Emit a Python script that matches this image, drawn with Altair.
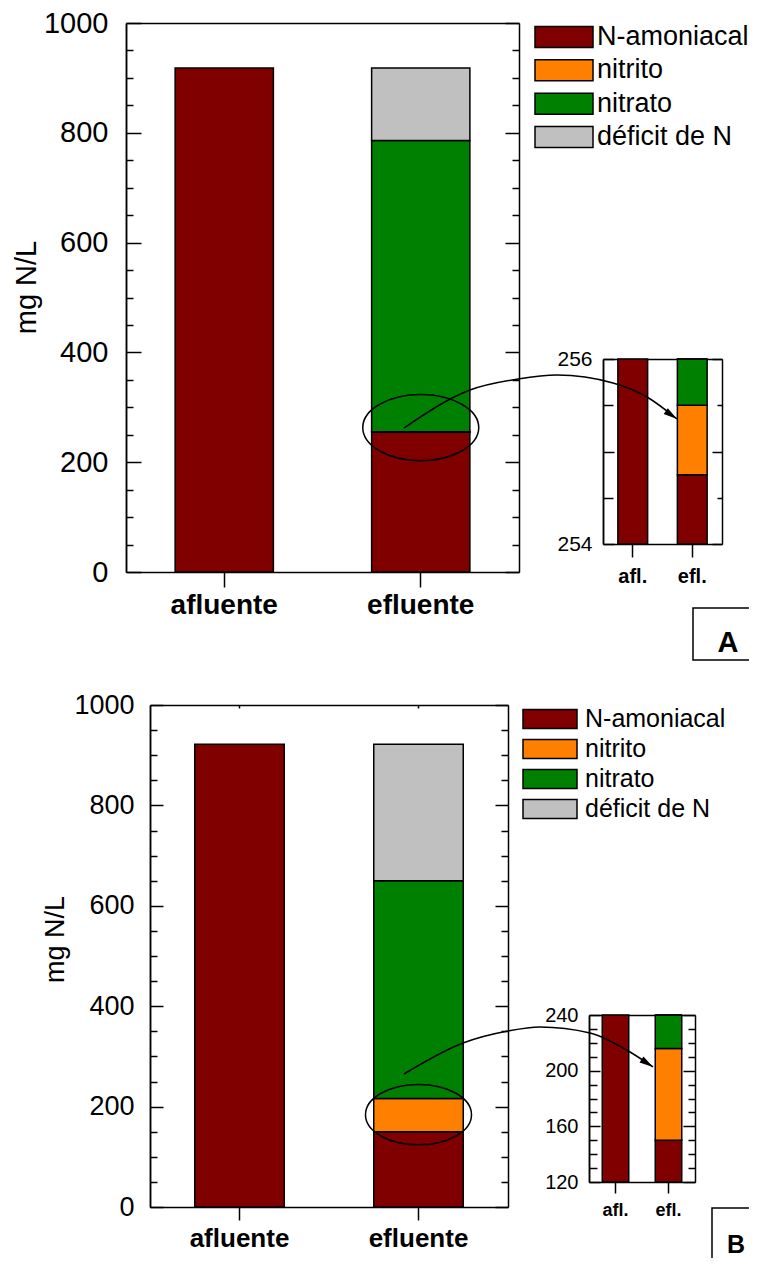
import altair as alt
import pandas as pd

W, H = 741, 1250
FONT = "Liberation Sans"

# ---------------- data ----------------
components = ["N-amoniacal", "nitrito", "nitrato", "déficit de N"]
colors = ["#800000", "#FF8000", "#008000", "#C0C0C0"]
samples = ["afluente", "efluente"]
samples_short = ["afl.", "efl."]

a_afluente = [918, 0, 0, 0]
a_efluente = [254.75, 0.75, 530.5, 132]
b_afluente = [922, 0, 0, 0]
b_efluente = [150, 66, 434, 272]

main_ticks = list(range(0, 1001, 50))
main_labels = [0, 200, 400, 600, 800, 1000]
insetA_ticks = [254, 254.5, 255, 255.5, 256]
insetA_labels = [254, 255, 256]
insetB_ticks = list(range(120, 241, 10))
insetB_labels = [120, 160, 200, 240]

# annotations
ellipse_A_value = [263]
ellipse_B_value = [184]
arrow_A_x = [396, 462, 510, 549, 605, 639, 669]
arrow_A_y = [420, 382, 371, 367, 375, 389, 411]
arrow_B_x = [396, 455, 500, 532, 582, 622, 645]
arrow_B_y = [1066, 1035, 1023, 1019, 1025, 1044, 1059]
head_angles = [125, 123]
panel_letters = ["A", "B"]


def make_df(afl, efl):
    rows = []
    for s, short, vals in zip(samples, samples_short, [afl, efl]):
        for i, (c, v) in enumerate(zip(components, vals)):
            if v > 0:
                rows.append({"sample": s, "short": short, "component": c, "value": v, "ord": i})
    return pd.DataFrame(rows)


dfA = make_df(a_afluente, a_efluente)
dfB = make_df(b_afluente, b_efluente)


def cond(major_mod, big, small):
    return {"condition": {"test": f"abs(datum.value % {major_mod}) < 1e-6", "value": big}, "value": small}


def plot_layers(df, xfield, cats, xr, yr, ydom, tick_vals, major_mod, tl, tr,
                lab_vals, lab_size, lab_pad, cat_size, cat_tick, cat_pad,
                title=None, title_size=0, title_pad=0, title_y=None, top_tick=0, clamp=False):
    xs = alt.Scale(domain=cats, range=xr, paddingInner=0.5, paddingOuter=0.25)
    ys = alt.Scale(domain=ydom, range=yr, clamp=clamp, nice=False, zero=False)
    color = alt.Color("component:N", scale=alt.Scale(domain=components, range=colors), legend=None)
    left_kw = dict(orient="left", offset=-xr[0], values=lab_vals, format="d", ticks=False, tickSize=0,
                   labelFontSize=lab_size, labelPadding=lab_pad, domain=True, grid=False)
    if title:
        left_kw.update(title=title, titleFontSize=title_size, titlePadding=title_pad, titleY=title_y)
    else:
        left_kw["title"] = None
    bars = alt.Chart(df).mark_bar(stroke="black", strokeWidth=1.5).encode(
        x=alt.X(f"{xfield}:N", scale=xs, axis=alt.Axis(orient="bottom", offset=yr[0] - H, title=None,
                                                       labelAngle=0, labelFontSize=cat_size,
                                                       labelFontWeight="bold", tickSize=cat_tick,
                                                       labelPadding=cat_pad, grid=False)),
        y=alt.Y("value:Q", stack="zero", scale=ys, axis=alt.Axis(**left_kw)),
        color=color,
        order=alt.Order("ord:Q"),
    )
    ticks_left = alt.Chart(df).mark_bar(opacity=0).encode(
        x=alt.X(f"{xfield}:N", scale=xs, axis=alt.Axis(orient="bottom", offset=yr[1] - H, labels=False,
                                                       ticks=top_tick > 0, tickSize=top_tick,
                                                       title=None, grid=False)),
        y=alt.Y("value:Q", stack=None, scale=ys,
                axis=alt.Axis(orient="right", offset=xr[0] - W, values=tick_vals, labels=False,
                              tickSize=cond(major_mod, tl[0], tl[1]), title=None, grid=False)),
    )
    ticks_right = alt.Chart(df).mark_bar(opacity=0).encode(
        x=alt.X(f"{xfield}:N", scale=xs, axis=None),
        y=alt.Y("value:Q", stack=None, scale=ys,
                axis=alt.Axis(orient="left", offset=-xr[1], values=tick_vals, labels=False,
                              tickSize=cond(major_mod, tr[0], tr[1]), title=None, grid=False)),
    )
    return [bars, ticks_left, ticks_right], xs, ys


layA, xsA, ysA = plot_layers(dfA, "sample", samples, [118, 511], [564, 15], [0, 1000], main_ticks, 200,
                             (15, 7), (14, 7), main_labels, 29, 18, 28, 15, 4,
                             title="mg N/L", title_size=29, title_pad=2, title_y=279)
layAi, _, _ = plot_layers(dfA, "short", samples_short, [595, 714], [536, 351], [254, 256], insetA_ticks, 1,
                          (11, 10), (10, 5), insetA_labels, 21, 11, 20, 13, 9, clamp=True)
layB, xsB, ysB = plot_layers(dfB, "sample", samples, [142, 500], [1199, 697], [0, 1000], main_ticks, 200,
                             (13, 7), (13, 7), main_labels, 27, 16, 26, 13, 5,
                             title="mg N/L", title_size=27, title_pad=4, title_y=931, top_tick=3)
layBi, _, _ = plot_layers(dfB, "short", samples_short, [581, 687], [1174, 1007], [120, 240], insetB_ticks, 40,
                          (11, 8), (12, 7), insetB_labels, 20, 11, 18, 11, 8, clamp=True)

# ellipses (in main-plot data coordinates)
ell_path = "M-1,0A1,0.57,0,1,1,1,0A1,0.57,0,1,1,-1,0"
ellA = alt.Chart(pd.DataFrame({"sample": ["efluente"], "v": ellipse_A_value})).mark_point(
    shape=ell_path, filled=False, stroke="black", strokeWidth=1.5, opacity=1, size=13456).encode(
    x=alt.X("sample:N", scale=xsA, axis=None), y=alt.Y("v:Q", scale=ysA, axis=None))
ellB = alt.Chart(pd.DataFrame({"sample": ["efluente"], "v": ellipse_B_value})).mark_point(
    shape=ell_path, filled=False, stroke="black", strokeWidth=1.5, opacity=1, size=11236).encode(
    x=alt.X("sample:N", scale=xsB, axis=None), y=alt.Y("v:Q", scale=ysB, axis=None))

# pixel-space annotations
pxs = alt.Scale(domain=[0, W], range=[0, W], nice=False, zero=False)
pys = alt.Scale(domain=[0, H], range=[0, H], nice=False, zero=False)

arr_rows = []
for panel, xs_, ys_ in [("A", arrow_A_x, arrow_A_y), ("B", arrow_B_x, arrow_B_y)]:
    for i, (x_, y_) in enumerate(zip(xs_, ys_)):
        arr_rows.append({"panel": panel, "px": x_, "py": y_, "ord": i})
arr_df = pd.DataFrame(arr_rows)
arrows = alt.Chart(arr_df).mark_line(color="black", strokeWidth=1.5, interpolate="monotone").encode(
    x=alt.X("px:Q", scale=pxs, axis=None), y=alt.Y("py:Q", scale=pys, axis=None),
    detail="panel:N", order="ord:Q")

head_df = pd.DataFrame({"px": [arrow_A_x[-1], arrow_B_x[-1]], "py": [arrow_A_y[-1], arrow_B_y[-1]],
                        "ang": head_angles})
heads = alt.Chart(head_df).mark_point(shape="M0,0L0.45,1.7L-0.45,1.7Z", filled=True, fill="black",
                                      opacity=1, size=260, strokeWidth=0).encode(
    x=alt.X("px:Q", scale=pxs, axis=None), y=alt.Y("py:Q", scale=pys, axis=None),
    angle=alt.Angle("ang:Q", scale=None))

box_df = pd.DataFrame({"x": [685, 704], "x2": [760, 760], "y": [600, 1200], "y2": [652, 1270]})
boxes = alt.Chart(box_df).mark_rect(fill="white", stroke="black", strokeWidth=1.5).encode(
    x=alt.X("x:Q", scale=pxs, axis=None), x2="x2:Q",
    y=alt.Y("y:Q", scale=pys, axis=None), y2="y2:Q")
let_df = pd.DataFrame({"t": panel_letters, "x": [720, 728], "y": [635, 1237], "fs": [29, 25]})
letters = alt.Chart(let_df).mark_text(font=FONT, fontWeight="bold", color="black",
                                      baseline="middle", align="center").encode(
    x=alt.X("x:Q", scale=pxs, axis=None), y=alt.Y("y:Q", scale=pys, axis=None),
    text="t:N", size=alt.Size("fs:Q", scale=None))


# manual legends
def legend_layers(yrange, pin, x0, x1, xt, fs):
    ldf = pd.DataFrame({"component": components})
    ysc = alt.Scale(domain=components, range=yrange, paddingInner=pin, paddingOuter=pin / 2)
    sw = alt.Chart(ldf).mark_rect(stroke="black", strokeWidth=1.5).encode(
        y=alt.Y("component:N", scale=ysc, axis=None),
        x=alt.value(x0), x2=alt.value(x1),
        color=alt.Color("component:N", scale=alt.Scale(domain=components, range=colors), legend=None))
    tx = alt.Chart(ldf).mark_text(align="left", baseline="middle", font=FONT, fontSize=fs,
                                  color="black").encode(
        y=alt.Y("component:N", scale=ysc, axis=None), x=alt.value(xt), text="component:N")
    return [sw, tx]


legA = legend_layers([12.4, 145.6], 0.37, 527, 585, 589, 27)
legB = legend_layers([696, 816], 0.37, 515, 569, 577, 25)

layers = layA + layAi + layB + layBi + [ellA, ellB] + legA + legB + [boxes, letters, arrows, heads]

chart = alt.layer(*layers).resolve_scale(
    x="independent", y="independent", color="independent", size="independent", angle="independent"
).resolve_axis(x="independent", y="independent").properties(
    width=W, height=H, padding=0, autosize=alt.AutoSizeParams(type="none")
).configure_view(stroke=None).configure_axis(
    labelFont=FONT, titleFont=FONT, labelColor="black", titleColor="black",
    domainColor="black", tickColor="black", domainWidth=1.5, tickWidth=1.5,
    titleFontWeight="normal", zindex=1
)

chart.save("out.html", embed_options={"renderer": "svg", "actions": False})
